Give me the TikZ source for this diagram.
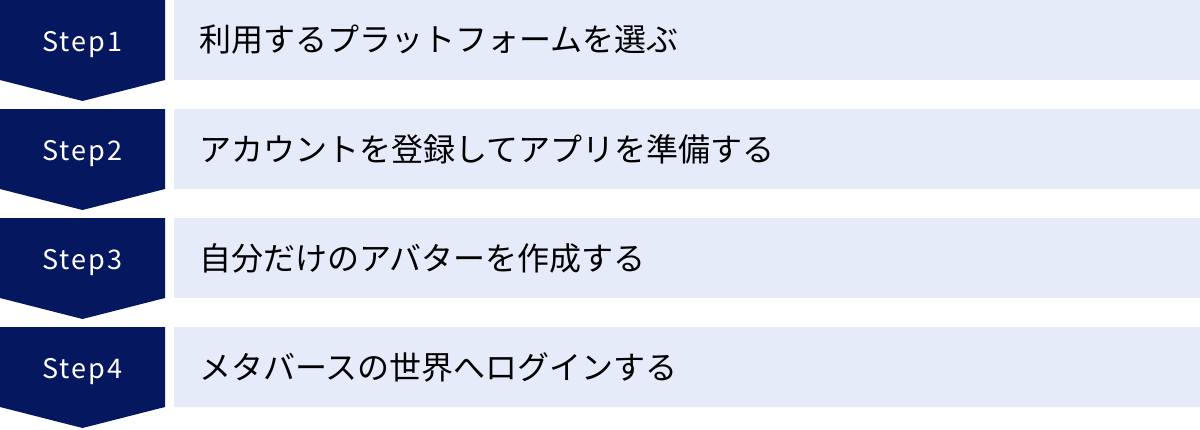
\documentclass[tikz,border=0pt]{standalone}
\usepackage{fontspec}
\setmainfont{Noto Sans CJK JP}
\definecolor{navy}{HTML}{05185F}
\definecolor{pale}{HTML}{E5EBF9}
\tikzset{
  x=1pt,y=-1pt,
  stepshape/.style={fill=navy,draw=none},
  itembox/.style={fill=pale,draw=none,minimum width=1026pt,minimum height=80pt,anchor=north west,inner sep=0pt},
  steplabel/.style={text=white,font=\fontsize{27}{30}\selectfont,inner sep=0pt,anchor=base},
  itemlabel/.style={text=black,font=\fontsize{32}{36}\selectfont,anchor=west,inner sep=0pt}
}
\begin{document}
\begin{tikzpicture}
\useasboundingbox (0,0) rectangle (1200,429);
\foreach \i/\s/\t in {0/1/利用するプラットフォームを選ぶ,1/2/アカウントを登録してアプリを準備する,2/3/自分だけのアバターを作成する,3/4/メタバースの世界へログインする}{
  \pgfmathsetmacro{\y}{109*\i}
  \fill[stepshape] (0,\y) -- (165,\y) -- (165,\y+80) -- (82.5,\y+101) -- (0,\y+80) -- cycle;
  \node[itembox] (box\s) at (174,\y) {};
  \node[steplabel] (step\s) at (82.5,\y+51) {\addfontfeatures{LetterSpace=8}Step\s};
  \node[itemlabel] (text\s) at (199,\y+40) {\t};
}
\end{tikzpicture}
\end{document}
